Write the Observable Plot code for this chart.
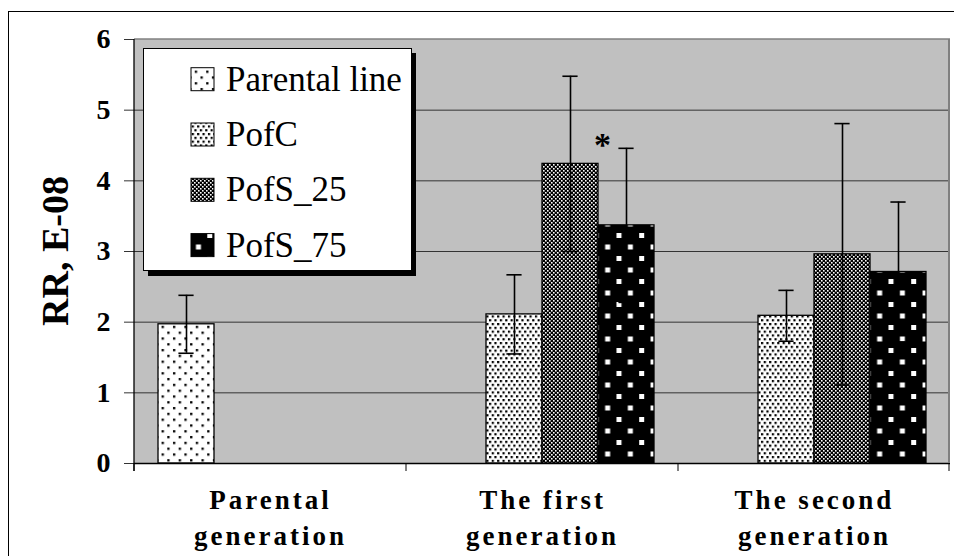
<!DOCTYPE html>
<html><head><meta charset="utf-8">
<script src="https://cdn.jsdelivr.net/npm/d3@7"></script>
<script src="https://cdn.jsdelivr.net/npm/@observablehq/plot@0.6"></script>
<style>
html,body{margin:0;padding:0;background:#fff;}
#wrap{position:relative;width:954px;height:556px;overflow:hidden;}
#border{position:absolute;left:8px;top:11px;width:2000px;height:2000px;border-left:1px solid #000;border-top:1px solid #000;}
#wrap svg{position:absolute;left:0;top:0;}
</style></head><body><div id="wrap"><div id="border"></div></div>
<script>
// ---- data ----
const generations = ["Parental generation", "The first generation", "The second generation"];
const genLabels = ["Parental\ngeneration", "The first\ngeneration", "The second\ngeneration"];
const series = ["Parental line", "PofC", "PofS_25", "PofS_75"];
const values = [
  [1.97, null, null, null],
  [null, 2.11, 4.24, 3.37],
  [null, 2.09, 2.96, 2.71]
];
const errors = [
  [0.41, null, null, null],
  [null, 0.56, 1.24, 1.09],
  [null, 0.36, 1.85, 0.99]
];
const stars = [
  [null, null, null, null],
  [null, null, null, 4.35],
  [null, null, null, null]
];
const yTicks = [0, 1, 2, 3, 4, 5, 6];
const patternIds = ["pParental", "pPofC", "pPofS25", "pPofS75"];

const rows = [];
const starRows = [];
generations.forEach((g, gi) => series.forEach((s, si) => {
  if (values[gi][si] != null) rows.push({gen: g, series: s, value: values[gi][si], err: errors[gi][si]});
  if (stars[gi][si] != null) starRows.push({gen: g, series: s, y: stars[gi][si], text: "*"});
}));

const serif = "'Liberation Serif', 'Times New Roman', serif";

const plot = Plot.plot({
  width: 954,
  height: 556,
  marginLeft: 133,
  marginRight: 3,
  marginTop: 39,
  marginBottom: 93,
  style: {fontFamily: serif, background: "transparent", overflow: "visible", color: "#000"},
  fx: {domain: generations, padding: 0, axis: null},
  x: {domain: series, paddingInner: 0, paddingOuter: 0.4, axis: null},
  y: {domain: [0, 6], axis: null},
  color: {type: "ordinal", domain: series, range: patternIds.map(id => `url(#${id})`)},
  marks: [
    Plot.gridY({ticks: [1, 2, 3, 4, 5], stroke: "#333", strokeOpacity: 1, strokeWidth: 1}),
    Plot.barY(rows, {fx: "gen", x: "series", y: "value", fill: "series", stroke: "#000", strokeWidth: 1.3}),
    Plot.ruleX(rows, {fx: "gen", x: "series", y1: d => d.value - d.err, y2: d => d.value + d.err, stroke: "#000", strokeWidth: 1.6}),
    Plot.tickY(rows, {fx: "gen", x: "series", y: d => d.value + d.err, insetLeft: 20.4, insetRight: 20.4, stroke: "#000", strokeWidth: 1.6}),
    Plot.tickY(rows, {fx: "gen", x: "series", y: d => d.value - d.err, insetLeft: 20.4, insetRight: 20.4, stroke: "#000", strokeWidth: 1.6}),
    Plot.text(starRows, {fx: "gen", x: "series", y: "y", text: "text", dx: -24, lineAnchor: "bottom", fontSize: 34, fontWeight: "bold", fill: "#000"}),
    Plot.ruleY([0], {stroke: "#000", strokeWidth: 1.3}),
    Plot.axisY({ticks: yTicks, tickFormat: "d", tickSize: 10, tickPadding: 14, fontSize: 28, fontWeight: "bold", label: null, stroke: "#333"}),
    Plot.axisFx({anchor: "bottom", tickSize: 0, tickPadding: 21, fontSize: 27, fontWeight: "bold", lineHeight: 1.3, label: null,
      tickFormat: d => genLabels[generations.indexOf(d)]})
  ]
});

const wrap = document.getElementById("wrap");
wrap.appendChild(plot);

const svg = d3.select(plot);
const defs = svg.insert("defs", ":first-child");
// Parental line: sparse dots on white
{
  const p = defs.append("pattern").attr("id", patternIds[0]).attr("patternUnits", "userSpaceOnUse").attr("width", 11.4).attr("height", 11.6);
  p.append("rect").attr("width", 11.4).attr("height", 11.6).attr("fill", "#fff");
  p.append("rect").attr("x", 1).attr("y", 1).attr("width", 2.3).attr("height", 2.3).attr("fill", "#000");
  p.append("rect").attr("x", 6.7).attr("y", 6.8).attr("width", 2.3).attr("height", 2.3).attr("fill", "#000");
}
// PofC: dense small dots
{
  const p = defs.append("pattern").attr("id", patternIds[1]).attr("patternUnits", "userSpaceOnUse").attr("width", 5.4).attr("height", 7.6);
  p.append("rect").attr("width", 5.4).attr("height", 7.6).attr("fill", "#fff");
  p.append("rect").attr("x", 0).attr("y", 0).attr("width", 2.2).attr("height", 2.2).attr("fill", "#000");
  p.append("rect").attr("x", 2.7).attr("y", 3.8).attr("width", 2.2).attr("height", 2.2).attr("fill", "#000");
}
// PofS_25: fine checker
{
  const p = defs.append("pattern").attr("id", patternIds[2]).attr("patternUnits", "userSpaceOnUse").attr("width", 4).attr("height", 4);
  p.append("rect").attr("width", 4).attr("height", 4).attr("fill", "#000");
  p.append("rect").attr("x", 0).attr("y", 0).attr("width", 1.6).attr("height", 1.6).attr("fill", "#fff");
  p.append("rect").attr("x", 2).attr("y", 2).attr("width", 1.6).attr("height", 1.6).attr("fill", "#fff");
}
// PofS_75: white squares on black
{
  const p = defs.append("pattern").attr("id", patternIds[3]).attr("patternUnits", "userSpaceOnUse").attr("width", 22.7).attr("height", 23);
  p.append("rect").attr("width", 22.7).attr("height", 23).attr("fill", "#000");
  p.append("rect").attr("x", 3).attr("y", 3).attr("width", 5).attr("height", 5).attr("fill", "#fff");
  p.append("rect").attr("x", 14.35).attr("y", 14.5).attr("width", 5).attr("height", 5).attr("fill", "#fff");
}

// letter spacing of category labels
svg.selectAll('g[aria-label="fx-axis tick label"] text').style("letter-spacing", "3px");

// plot background, axis lines, facet boundary ticks, plot border
const fx = plot.scale("fx"), y = plot.scale("y");
const x0 = fx.apply(generations[0]);
const xEnd = fx.apply(generations[generations.length - 1]) + fx.bandwidth;
const y0 = y.apply(0), yTop = y.apply(6);
svg.insert("rect", "defs + *").attr("x", x0).attr("y", yTop).attr("width", xEnd - x0).attr("height", y0 - yTop).attr("fill", "#c0c0c0");
const g = svg.append("g");
g.append("line").attr("x1", xEnd - 1).attr("x2", xEnd - 1).attr("y1", yTop).attr("y2", y0).attr("stroke", "#808080").attr("stroke-width", 2);
g.append("line").attr("x1", x0).attr("x2", xEnd).attr("y1", yTop).attr("y2", yTop).attr("stroke", "#808080").attr("stroke-width", 1.5);
g.append("line").attr("x1", x0).attr("x2", x0).attr("y1", yTop).attr("y2", y0 + 8).attr("stroke", "#000").attr("stroke-width", 1.3);
generations.forEach(gen => {
  const xb = fx.apply(gen);
  g.append("line").attr("x1", xb).attr("x2", xb).attr("y1", y0).attr("y2", y0 + 8).attr("stroke", "#000").attr("stroke-width", 1);
});
g.append("line").attr("x1", xEnd - 1).attr("x2", xEnd - 1).attr("y1", y0).attr("y2", y0 + 8).attr("stroke", "#000").attr("stroke-width", 1);

// y-axis title
svg.append("text").attr("transform", `translate(68,${(y0 + yTop) / 2}) rotate(-90)`)
  .attr("text-anchor", "middle").attr("font-family", serif).attr("font-weight", "bold").attr("font-size", 38)
  .text("RR, E-08");

// legend (overlay)
const L = d3.select(wrap).append("svg").attr("width", 954).attr("height", 556).style("pointer-events", "none");
L.append("rect").attr("x", 148).attr("y", 53).attr("width", 268).attr("height", 223).attr("fill", "#000");
L.append("rect").attr("x", 143.5).attr("y", 48.5).attr("width", 268).attr("height", 222).attr("fill", "#fff").attr("stroke", "#000").attr("stroke-width", 1);
series.forEach((s, i) => {
  const base = 90.7 + i * 55.3;
  L.append("rect").attr("x", 191).attr("y", base - 23).attr("width", 23).attr("height", 23)
    .attr("fill", `url(#${patternIds[i]})`).attr("stroke", "#000").attr("stroke-width", 1);
  L.append("text").attr("x", 226).attr("y", base).attr("font-family", serif).attr("font-size", 35).attr("fill", "#000").text(s);
});
</script>
</body></html>
